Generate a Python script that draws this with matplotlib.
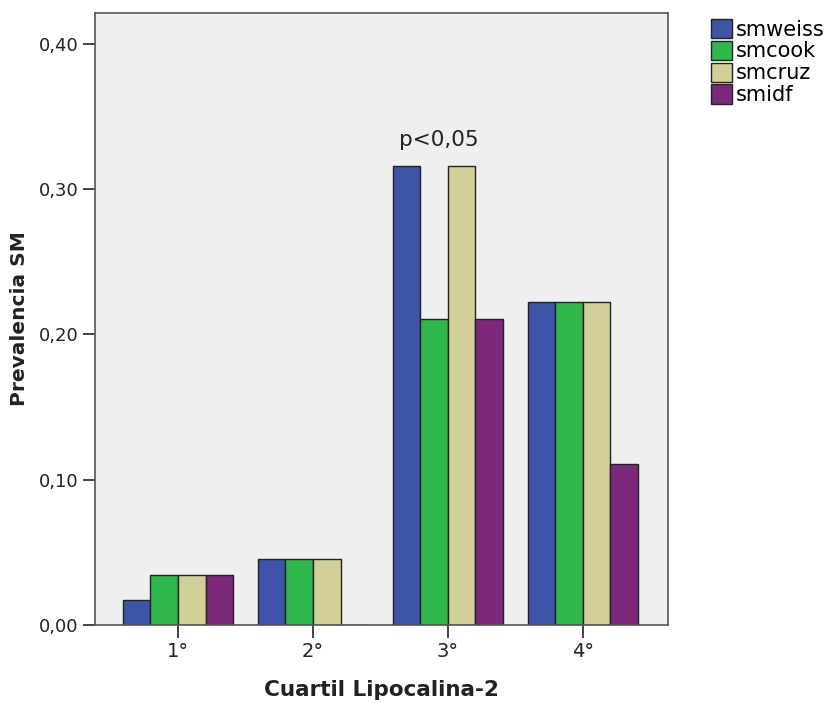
import numpy as np
import matplotlib.pyplot as plt
from matplotlib.patches import Patch
from matplotlib.ticker import FuncFormatter

cuartiles = ['1°', '2°', '3°', '4°']
series = ['smweiss', 'smcook', 'smcruz', 'smidf']
smweiss = [1 / 58, 1 / 22, 6 / 19, 2 / 9]
smcook = [2 / 58, 1 / 22, 4 / 19, 2 / 9]
smcruz = [2 / 58, 1 / 22, 6 / 19, 2 / 9]
smidf = [2 / 58, 0.0, 4 / 19, 1 / 9]

colores = ['#3c55a9', '#2eb84b', '#d3cf98', '#7e287c']

plt.rcParams['font.family'] = 'DejaVu Sans'

fig = plt.figure(figsize=(8.37, 7.03), dpi=100)
ax = fig.add_axes([0.1135, 0.111, 0.6845, 0.8705])
ax.set_facecolor('#efefef')

x = np.arange(len(cuartiles))
w = 0.204
valores = [smweiss, smcook, smcruz, smidf]
for i, (nombre, vals) in enumerate(zip(series, valores)):
    ax.bar(x + (i - 1.5) * w, vals, width=w, color=colores[i],
           edgecolor='#222222', linewidth=1.0, label=nombre, zorder=2)

# anotación de significación sobre el tercer cuartil
ax.text(1.93, 0.334, 'p<0,05', ha='center', va='center', fontsize=15.5,
        color='#222222')

ax.set_xlim(-0.615, 3.63)
ax.set_ylim(0, 0.4213)
ax.set_yticks([0, 0.1, 0.2, 0.3, 0.4])
ax.yaxis.set_major_formatter(
    FuncFormatter(lambda v, p: f'{v:.2f}'.replace('.', ',')))
ax.set_xticks(x)
ax.set_xticklabels(cuartiles)
ax.tick_params(axis='both', direction='out', length=9, width=1.2,
               labelsize=13, colors='#222222', pad=3)
ax.tick_params(axis='x', labelsize=14)

for s in ax.spines.values():
    s.set_color('#555555')
    s.set_linewidth(1.2)

ax.set_xlabel('Cuartil Lipocalina-2', fontsize=15.5, fontweight='bold',
              color='#222222', labelpad=14)
ax.set_ylabel('Prevalencia SM', fontsize=14.5, fontweight='bold',
              color='#222222', labelpad=7)

handles = [Patch(facecolor=c, edgecolor='#222222', label=n)
           for c, n in zip(colores, series)]
fig.legend(handles=handles, loc='upper left', bbox_to_anchor=(0.839, 0.985),
           frameon=False, fontsize=15, handlelength=1.05, handleheight=1.05,
           handletextpad=0.15, labelspacing=0.05, borderaxespad=0)

fig.savefig('out.png', dpi=100)
